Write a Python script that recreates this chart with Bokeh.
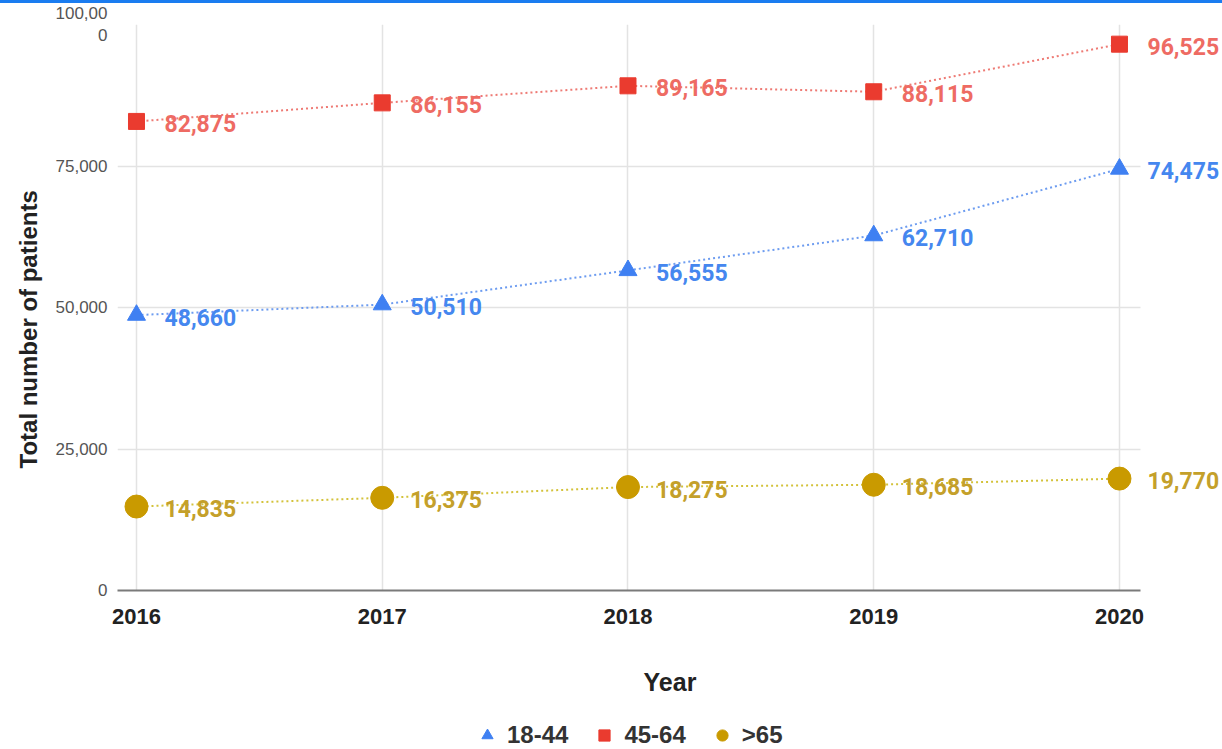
from bokeh.plotting import figure
from bokeh.layouts import column
from bokeh.models import (ColumnDataSource, LabelSet, Legend, LegendItem,
                          FixedTicker, Range1d, Title, Div)
from bokeh.core.properties import value
from bokeh.embed import file_html
from bokeh.resources import INLINE

# ---- data ----
years = [2016, 2017, 2018, 2019, 2020]
age_18_44 = [48660, 50510, 56555, 62710, 74475]
age_45_64 = [82875, 86155, 89165, 88115, 96525]
age_65_plus = [14835, 16375, 18275, 18685, 19770]
series_names = ["18-44", "45-64", ">65"]
y_ticks = [0, 25000, 50000, 75000, 100000]
y_tick_labels = ["0", "25,000", "50,000", "75,000", "100,00\n0"]
x_title = "Year"
y_title = "Total number of  patients"

# ---- styles ----
marker_colors = ["#3f80f2", "#ea3b2f", "#c99a00"]
label_colors = ["#4587ef", "#ee6b63", "#c4a02a"]
line_colors = ["#6d9cf0", "#ee7a74", "#d3c23a"]
markers = ["triangle", "square", "circle"]
marker_sizes = [18, 16, 23]

x_lo, x_hi = 2015.9227, 2020.0855
x_view_hi = 2020.4192

top_bar = Div(text="", width=1222, height=3, margin=0,
              styles={"background-color": "#1a7cf0"})

p = figure(width=1222, height=717, output_backend="svg", toolbar_location=None,
           x_range=Range1d(x_lo, x_view_hi), y_range=Range1d(0, 100000),
           min_border_left=117, min_border_right=0, min_border_top=21,
           min_border_bottom=130)
p.outline_line_color = None
p.background_fill_color = "white"
p.border_fill_color = "white"

# axes
p.xaxis.ticker = FixedTicker(ticks=years)
p.xaxis.bounds = (x_lo, x_hi)
p.xaxis.major_label_overrides = {y: str(y) for y in years}
p.xaxis.major_label_text_font = "Liberation Sans"
p.xaxis.major_label_text_font_style = "bold"
p.xaxis.major_label_text_font_size = "22px"
p.xaxis.major_label_text_color = "#222222"
p.xaxis.major_label_standoff = 18
p.xaxis.major_tick_in = 0
p.xaxis.major_tick_out = 0
p.xaxis.minor_tick_in = 0
p.xaxis.minor_tick_out = 0
p.xaxis.axis_line_color = "#7a7a7a"
p.xaxis.axis_line_width = 2
p.xaxis.axis_label = x_title
p.xaxis.axis_label_text_font = "Liberation Sans"
p.xaxis.axis_label_text_font_style = "bold"
p.xaxis.axis_label_text_font_size = "25px"
p.xaxis.axis_label_text_color = "#222222"
p.xaxis.axis_label_standoff = 41

p.yaxis.ticker = FixedTicker(ticks=y_ticks)
p.yaxis.major_label_overrides = dict(zip(y_ticks, y_tick_labels))
p.yaxis.major_label_text_font = "Liberation Sans"
p.yaxis.major_label_text_font_size = "17px"
p.yaxis.major_label_text_color = "#555555"
p.yaxis.major_label_standoff = 10
p.yaxis.major_tick_in = 0
p.yaxis.major_tick_out = 0
p.yaxis.minor_tick_in = 0
p.yaxis.minor_tick_out = 0
p.yaxis.axis_line_color = None

ytitle = Title(text=y_title, align="left", offset=122, standoff=22,
               text_font="Liberation Sans", text_font_style="bold",
               text_font_size="24px", text_color="#222222")
p.add_layout(ytitle, "left")

p.xgrid.ticker = FixedTicker(ticks=years)
p.ygrid.ticker = FixedTicker(ticks=y_ticks)
p.ygrid.cross_bounds = (x_lo, x_hi)
p.xgrid.grid_line_color = "#e3e3e3"
p.ygrid.grid_line_color = "#e3e3e3"
p.xgrid.grid_line_width = 1.5
p.ygrid.grid_line_width = 1.5

# ---- legend strip (own small figure so it is not clipped) ----
lf = figure(width=1222, height=29, output_backend="svg", toolbar_location=None,
            x_range=Range1d(0, 1), y_range=Range1d(0, 1),
            x_axis_type=None, y_axis_type=None, min_border=0)
lf.outline_line_color = None
lf.background_fill_color = "white"
lf.border_fill_color = "white"

all_series = [age_18_44, age_45_64, age_65_plus]
legend_items = []
for i, vals in enumerate(all_series):
    src = ColumnDataSource(dict(x=years, y=vals,
                                lbl=[f"{v:,}" for v in vals]))
    p.line("x", "y", source=src, line_color=line_colors[i], line_width=2,
           line_dash="2 3")
    p.scatter("x", "y", source=src, marker=markers[i], size=marker_sizes[i],
              fill_color=marker_colors[i], line_color=marker_colors[i])
    labels = LabelSet(x="x", y="y", text="lbl", source=src, x_offset=28,
                      y_offset=-2, text_align="left", text_baseline="middle",
                      text_font=value("Roboto"), text_font_style="bold",
                      text_font_size="23px", text_color=label_colors[i])
    p.add_layout(labels)
    # same series in the legend strip (its points fall outside that strip's view)
    r = lf.scatter("x", "y", source=src, marker=markers[i], size=marker_sizes[i],
                   fill_color=marker_colors[i], line_color=marker_colors[i])
    legend_items.append(LegendItem(label=series_names[i], renderers=[r]))

legend = Legend(items=legend_items, orientation="horizontal",
                location=(354, 0), glyph_width=32, glyph_height=28,
                label_standoff=4, spacing=20, padding=0, margin=0,
                border_line_color=None, background_fill_alpha=0,
                label_text_font="Liberation Sans", label_text_font_style="bold",
                label_text_font_size="24px", label_text_color="#333333")
lf.add_layout(legend, "center")

layout = column(top_bar, p, lf, spacing=0)
open("out.html", "w").write(file_html(layout, INLINE))
